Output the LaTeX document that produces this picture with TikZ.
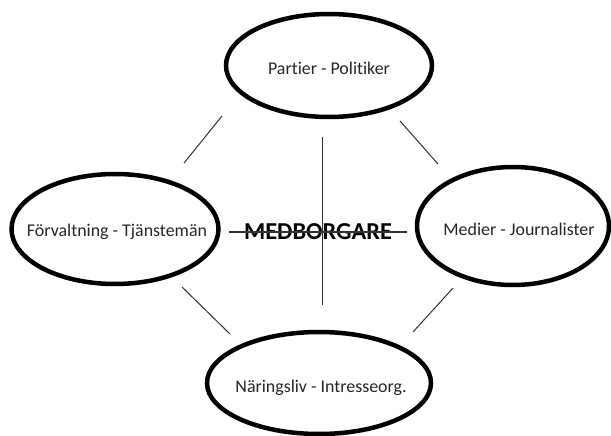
\documentclass[tikz,border=0pt]{standalone}
\usepackage{fontspec}
\setmainfont[Ligatures=NoCommon]{Carlito}
\usetikzlibrary{shapes.geometric}
\tikzset{
  ell/.style={ellipse, draw=black, line width=4.5pt, inner sep=0pt},
  lbl/.style={inner sep=0pt, font=\fontsize{17.9}{20}\selectfont, text=black!85},
  thin/.style={draw=black!80, line width=1pt}
}
\begin{document}
\begin{tikzpicture}[x=1pt,y=-1pt]
\useasboundingbox (0,0) rectangle (611,436);
\fill[white] (0,0) rectangle (611,436);
\node[ell, minimum width=206pt, minimum height=103pt] (pol) at (329,65.5) {};
\node[lbl] (polt) at (329,68) {Partier - Politiker};
\node[ell, minimum width=207pt, minimum height=110pt] (for) at (115,229) {};
\node[lbl] (fort) at (117,232) {Förvaltning - Tjänstemän};
\node[ell, minimum width=192pt, minimum height=118pt] (med) at (513,226) {};
\node[lbl] (medt) at (519,229) {Medier - Journalister};
\node[ell, minimum width=224pt, minimum height=102pt] (nar) at (319,383) {};
\node[lbl] (nart) at (321,388) {Näringsliv - Intresseorg.};
\node[font=\bfseries\fontsize{24.3}{28}\selectfont, inner sep=0pt] (mb) at (318,232) {MEDBORGARE};
% connectors
\coordinate (tl1) at (222,116); \coordinate (tl2) at (184,163);
\coordinate (tr1) at (400,121); \coordinate (tr2) at (438,164);
\coordinate (bl1) at (182,287); \coordinate (bl2) at (230,334);
\coordinate (br1) at (453,288); \coordinate (br2) at (413,332);
\coordinate (v1) at (322,137); \coordinate (v2) at (322,305);
\coordinate (h1) at (229,232); \coordinate (h2) at (407,232);
\draw[thin] (tl1) -- (tl2);
\draw[thin] (tr1) -- (tr2);
\draw[thin] (bl1) -- (bl2);
\draw[thin] (br1) -- (br2);
\draw[thin] (v1) -- (v2);
\draw[thin, line width=1.3pt] (h1) -- (h2);
\end{tikzpicture}
\end{document}
